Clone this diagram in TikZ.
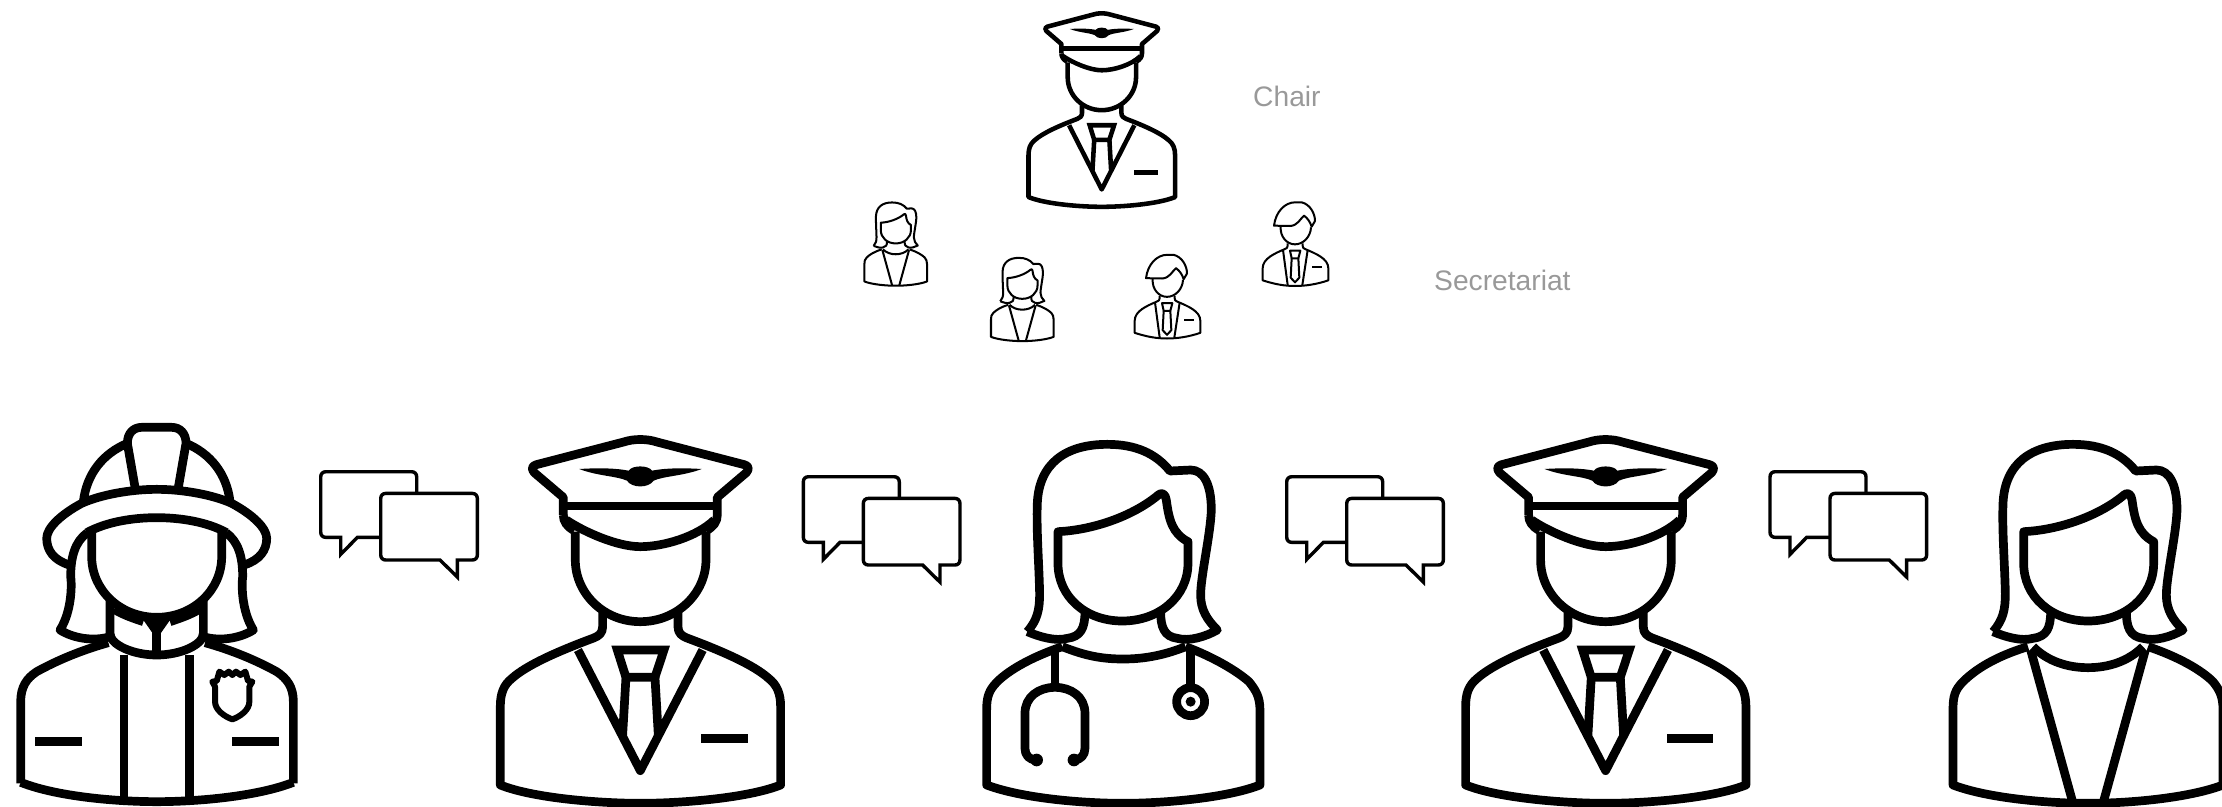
\documentclass[tikz,border=0pt]{standalone}
\usepackage{fontspec}
\setmainfont{Liberation Sans}
\definecolor{lbl}{HTML}{999999}
\tikzset{
  icon/.style={draw=black,line join=round,line cap=butt,fill=none},
  lblnode/.style={anchor=base west,inner sep=0pt,text=lbl,font=\fontsize{28.2}{32}\selectfont},
  bubble/.style={draw=black,line width=3.4pt,miter limit=10,line join=miter},
}
% Pilot icon: X, Y (top of local frame in px), size factor, height factor
\newcommand{\pilotfig}[4]{%
\begin{scope}[shift={(#1,-#2)},xscale={#3/3},yscale={-#4/3},line width={#3*8.7pt}]
 \draw[icon] (-231,285) -- (-231,232) -- (-318,158) .. controls (-328,146) and (-325,138) .. (-312,134) -- (-50,66) .. controls (-20,56) and (20,56) .. (50,66) -- (312,134) .. controls (325,138) and (328,146) .. (318,158) -- (231,232) -- (231,285) .. controls (231,305) and (220,320) .. (198,332);
 \draw[icon] (-231,285) .. controls (-231,305) and (-220,320) .. (-198,332);
 \draw[icon] (-222,300) .. controls (-170,335) and (-70,380) .. (0,380) .. controls (70,380) and (170,350) .. (222,300);
 \draw[icon] (-231,258) -- (231,258);
 \fill (-183,147) .. controls (-120,143) and (-70,145) .. (-35,152) .. controls (-25,135) and (25,135) .. (35,152) .. controls (70,145) and (120,143) .. (184,147) .. controls (130,168) and (70,168) .. (40,182) .. controls (25,205) and (-25,205) .. (-40,182) .. controls (-70,168) and (-130,168) .. (-183,147) -- cycle;
 \draw[icon] (-195,335) -- (-195,420) .. controls (-195,520) and (-110,605) .. (0,605) .. controls (110,605) and (197,520) .. (197,420) -- (197,335);
 \draw[icon] (-113,578) -- (-113,620) .. controls (-113,640) and (-125,648) .. (-140,654) .. controls (-250,695) and (-340,735) .. (-385,775) .. controls (-410,795) and (-420,820) .. (-420,860) -- (-420,1095) .. controls (-320,1135) and (-120,1150) .. (0,1150) .. controls (120,1150) and (320,1135) .. (421,1095) -- (421,860) .. controls (421,820) and (410,795) .. (385,775) .. controls (340,735) and (250,695) .. (140,654) .. controls (125,648) and (113,640) .. (113,620) -- (113,578);
 \draw[icon] (-187,690) -- (0,1052) -- (187,690);
 \draw[icon,line join=miter] (-69,690) -- (71,690) -- (44,772) -- (-43,772) -- cycle;
 \draw[icon] (-43,772) -- (-53,945);
 \draw[icon] (44,772) -- (54,945);
 \fill (183,942) rectangle (323,970);
\end{scope}}
% Woman head
\newcommand{\womanhead}{%
 \draw[icon] (-285,635) .. controls (-255,600) and (-248,570) .. (-248,520) .. controls (-250,430) and (-258,330) .. (-255,250) .. controls (-250,130) and (-170,73) .. (-45,73) .. controls (40,73) and (100,100) .. (143,153) -- (205,150) .. controls (245,150) and (267,195) .. (267,270) .. controls (265,340) and (235,470) .. (235,525) .. controls (235,570) and (255,600) .. (285,630) .. controls (250,650) and (200,665) .. (165,655) .. controls (125,650) and (115,620) .. (115,575);
 \draw[icon] (-285,635) .. controls (-250,650) and (-200,665) .. (-165,655) .. controls (-125,650) and (-112,625) .. (-112,575);
 \draw[icon] (197,430) -- (197,365) .. controls (150,340) and (140,300) .. (132,240) .. controls (130,222) and (118,215) .. (108,225) .. controls (30,290) and (-90,330) .. (-193,335) -- (-193,430) .. controls (-193,530) and (-110,603) .. (0,603) .. controls (110,603) and (197,530) .. (197,430);
}
\newcommand{\womanfig}[3]{%
\begin{scope}[shift={(#1,-#2)},xscale={#3/3},yscale={-#3/3},line width={#3*8.7pt}]
 \womanhead
 \draw[icon] (-180,680) .. controls (-280,710) and (-340,750) .. (-375,785) .. controls (-400,810) and (-405,830) .. (-405,870) -- (-405,1095) .. controls (-300,1135) and (-120,1150) .. (0,1150) .. controls (120,1150) and (300,1135) .. (405,1095) -- (405,870) .. controls (405,830) and (395,810) .. (375,785) .. controls (340,750) and (270,710) .. (180,680);
 \draw[icon] (-165,680) .. controls (-120,725) and (-60,743) .. (0,743) .. controls (60,743) and (120,725) .. (165,680);
 \draw[icon] (-172,690) -- (-45,1150);
 \draw[icon] (172,690) -- (45,1150);
\end{scope}}
\newcommand{\doctorfig}[3]{%
\begin{scope}[shift={(#1,-#2)},xscale={#3/3},yscale={-#3/3},line width={#3*8.7pt}]
 \womanhead
 \draw[icon] (-180,680) .. controls (-270,710) and (-340,750) .. (-375,785) .. controls (-400,810) and (-407,830) .. (-407,870) -- (-407,1095) .. controls (-300,1135) and (-120,1150) .. (3,1150) .. controls (120,1150) and (310,1135) .. (413,1095) -- (413,870) .. controls (413,830) and (400,810) .. (380,785) .. controls (340,750) and (270,710) .. (190,680);
 \draw[icon] (-180,680) .. controls (-110,708) and (-60,717) .. (3,717) .. controls (60,717) and (120,708) .. (190,680);
 \draw[icon] (-202,685) -- (-202,800);
 \draw[icon] (205,685) -- (205,803);
 \draw[icon] (205,845) circle (42);
 \fill (205,845) circle (15);
 \draw[icon] (-257,1020) .. controls (-280,1020) and (-292,1005) .. (-292,985) -- (-292,880) .. controls (-292,830) and (-250,802) .. (-202,802) .. controls (-154,802) and (-112,830) .. (-112,880) -- (-112,985) .. controls (-112,1005) and (-125,1020) .. (-145,1020);
 \fill (-257,1020) circle (19);
 \fill (-145,1020) circle (19);
\end{scope}}
% Small man: local units are 1/3 px, origin on the vertical axis
\newcommand{\manfig}[2]{%
\begin{scope}[shift={(#1,-#2)},xscale=1/3,yscale=-1/3,line width=2pt]
 \draw[icon] (-63,92) .. controls (-58,50) and (-30,22) .. (0,22) .. controls (8,22) and (12,20) .. (20,22) .. controls (45,28) and (60,55) .. (60,78) -- (50,95) .. controls (45,80) and (38,70) .. (27,62) .. controls (15,72) and (8,92) .. (-15,93) -- (-63,92) -- cycle;
 \draw[icon] (-43,95) .. controls (-45,125) and (-25,148) .. (0,148) .. controls (25,148) and (47,125) .. (48,97);
 \draw[icon] (-22,145) -- (-22,152) .. controls (-22,158) and (-25,160) .. (-30,162) .. controls (-60,175) and (-97,190) .. (-97,220) -- (-97,256) .. controls (-60,268) and (-30,273) .. (0,273) .. controls (30,273) and (65,268) .. (100,256) -- (100,220) .. controls (100,190) and (60,175) .. (30,162) .. controls (25,160) and (23,158) .. (23,152) -- (23,145);
 \draw[icon] (-36,165) -- (-22,270);
 \draw[icon] (38,165) -- (22,270);
 \draw[icon] (-15,167) -- (16,167) -- (10,190) -- (-10,190) -- cycle;
 \draw[icon] (-10,190) -- (-13,248) -- (0,262) -- (13,248) -- (10,190);
 \fill (52,213) rectangle (80,219);
\end{scope}}
% Pair of speech bubbles: X,Y of the back bubble's top left corner
\newcommand{\chatfig}[2]{%
\begin{scope}[shift={(#1,-#2)},xscale=1/3,yscale=-1/3]
 \draw[bubble] (288,65) -- (288,16) .. controls (288,6) and (282,0) .. (272,0) -- (16,0) .. controls (6,0) and (0,6) .. (0,16) -- (0,181) .. controls (0,191) and (6,197) .. (16,197) -- (60,197) -- (60,248) -- (110,197) -- (180,197);
 \draw[bubble] (196,65) -- (454,65) .. controls (464,65) and (470,71) .. (470,81) -- (470,249) .. controls (470,259) and (464,265) .. (454,265) -- (410,265) -- (410,316) -- (358,265) -- (196,265) .. controls (186,265) and (180,259) .. (180,249) -- (180,81) .. controls (180,71) and (186,65) .. (196,65) -- cycle;
\end{scope}}
\begin{document}
\begin{tikzpicture}[x=1pt,y=1pt]
\useasboundingbox (0,0) rectangle (2222,-806);
\clip (0,0) rectangle (2222,-806);
% Top row
\pilotfig{1101.7}{2.9}{0.523}{0.532}
\node[lblnode] (chair) at (1253,-106) {Chair};
\womanfig{895.7}{196.8}{0.232}
\womanfig{1022.3}{252.2}{0.232}
\manfig{1295}{195}
\manfig{1167}{247.5}
\node[lblnode] (secretariat) at (1434,-290) {Secretariat};
% Firefighter
\begin{scope}[shift={(156.7,-400)},xscale=1/3,yscale=-1/3,line width=8.7pt]
 \draw[icon] (-408,1150) -- (-408,905) .. controls (-408,860) and (-390,835) .. (-360,815) .. controls (-300,782) and (-230,752) .. (-145,728);
 \draw[icon] (410,1150) -- (410,905) .. controls (410,860) and (390,835) .. (360,815) .. controls (300,782) and (230,752) .. (145,728);
 \draw[icon] (-408,1147) .. controls (-300,1190) and (-120,1205) .. (0,1205) .. controls (120,1205) and (300,1190) .. (410,1147);
 \draw[icon] (-98,765) -- (-98,1205);
 \draw[icon] (98,765) -- (98,1205);
 \fill (-365,1010) rectangle (-225,1038);
 \fill (227,1010) rectangle (367,1038);
 % shield
 \begin{scope}[line width=6pt]
 \draw[icon] (167,845) -- (180,843) -- (188,815) -- (203,825) -- (216,815) -- (227,825) -- (238,815) -- (251,825) -- (266,815) -- (274,843) -- (287,845) -- (278,860) -- (278,905) .. controls (278,930) and (250,950) .. (227,958) .. controls (204,950) and (175,930) .. (175,905) -- (175,860) -- cycle;
 \end{scope}
 % collar
 \draw[icon] (-140,600) -- (-140,700) .. controls (-140,735) and (-70,765) .. (0,765) .. controls (70,765) and (140,735) .. (140,700) -- (140,600);
 \draw[icon] (-128,628) .. controls (-100,645) and (-70,655) .. (-40,665);
 \draw[icon] (128,628) .. controls (100,645) and (70,655) .. (40,665);
 \draw[icon] (0,695) -- (0,765);
 \fill (-40,660) -- (40,660) -- (12,700) -- (-12,700) -- cycle;
 % face
 \draw[icon] (-195,395) -- (-195,470) .. controls (-195,570) and (-110,652) .. (0,652) .. controls (110,652) and (195,570) .. (195,470) -- (195,395);
 % brim
 \draw[icon] (-262,495) .. controls (-310,480) and (-330,450) .. (-330,415) .. controls (-330,385) and (-290,345) .. (-225,310) .. controls (-170,285) and (-80,268) .. (0,268) .. controls (80,268) and (170,285) .. (225,310) .. controls (290,345) and (330,385) .. (330,415) .. controls (330,450) and (310,480) .. (262,495);
 \draw[icon] (-210,398) .. controls (-150,365) and (-70,353) .. (0,353) .. controls (70,353) and (150,365) .. (210,398);
 % hair
 \draw[icon] (-208,398) .. controls (-245,425) and (-258,470) .. (-258,530) .. controls (-255,550) and (-253,630) .. (-290,690) .. controls (-250,715) and (-190,725) .. (-140,710);
 \draw[icon] (208,398) .. controls (245,425) and (258,470) .. (258,530) .. controls (255,550) and (253,630) .. (290,690) .. controls (250,715) and (190,725) .. (140,710);
 % helmet
 \draw[icon] (-220,305) .. controls (-210,220) and (-160,160) .. (-88,130);
 \draw[icon] (220,305) .. controls (210,220) and (160,160) .. (88,130);
 \draw[icon] (-65,262) -- (-88,130) .. controls (-88,100) and (-70,82) .. (-45,82) -- (45,82) .. controls (70,82) and (88,100) .. (88,130) -- (65,262);
\end{scope}
\pilotfig{640.3}{420}{1}{1}
\pilotfig{1605.6}{420}{1}{1}
\doctorfig{1122.3}{420}{1}
\womanfig{2088}{420}{1}
\chatfig{320.7}{471.7}
\chatfig{803.3}{476.7}
\chatfig{1286.7}{476.7}
\chatfig{1770}{471.7}
\end{tikzpicture}
\end{document}
